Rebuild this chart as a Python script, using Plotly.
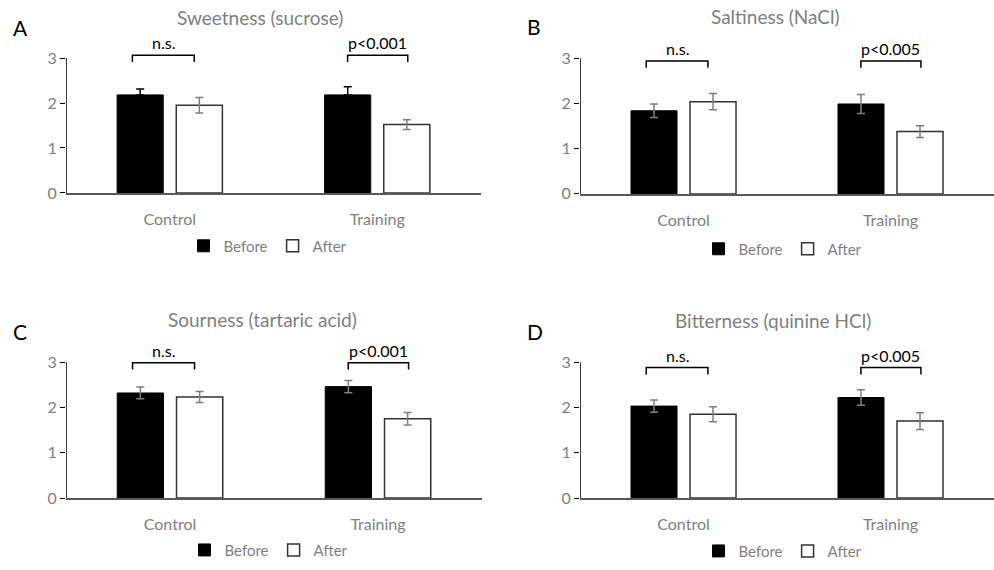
import plotly.graph_objects as go

categories = ["Control", "Training"]
panel_letters = ["A", "B", "C", "D"]
panel_titles = ["Sweetness (sucrose)", "Saltiness (NaCl)",
                "Sourness (tartaric acid)", "Bitterness (quinine HCl)"]
before_vals = [[2.18, 2.18], [1.84, 1.99], [2.32, 2.46], [2.03, 2.22]]
before_err = [[0.13, 0.18], [0.15, 0.21], [0.13, 0.135], [0.135, 0.17]]
after_vals = [[1.95, 1.52], [2.04, 1.38], [2.23, 1.75], [1.85, 1.70]]
after_err = [[0.17, 0.11], [0.18, 0.13], [0.12, 0.14], [0.165, 0.185]]
sig_labels = [["n.s.", "p<0.001"], ["n.s.", "p<0.005"],
              ["n.s.", "p<0.001"], ["n.s.", "p<0.005"]]
bracket_tops = [3.06, 2.94, 2.99, 2.88]
y_ticks = [0, 1, 2, 3]

W, H = 994, 570
FONT = "Lato, 'Open Sans', sans-serif"
GRAY_TXT = "#7f7f7f"

# pixel layout per panel: (x_left, x_right, y_zero, px_per_unit)
panels_px = [(66, 481, 196, 45.67), (580, 994, 197, 45.9),
             (66, 482, 506, 46.0), (580, 994, 506, 46.0)]
YMAX = 3.5
legend_pos = [(268, 250), (783, 253), (269, 559), (783, 560)]
title_pos = [(260, 18), (775, 17), (262, 325), (773, 326)]
letter_pos = [(20, 28), (534, 27), (20, 337), (535, 337)]

fig = go.Figure()
layout = dict(
    width=W, height=H, margin=dict(l=0, r=0, t=0, b=0),
    paper_bgcolor="white", plot_bgcolor="white",
    barmode="group", bargap=0.43, bargroupgap=0.22,
    font=dict(family=FONT, color=GRAY_TXT),
    showlegend=True,
)
annotations = []
shapes = []

for i in range(4):
    xl, xr, yz, ppu = panels_px[i]
    sfx = "" if i == 0 else str(i + 1)
    xa, ya = "x" + sfx, "y" + sfx
    leg = "legend" if i == 0 else "legend" + str(i + 1)

    if i == 0:
        berr = dict(type="data", array=before_err[i], arrayminus=[0, 0],
                    symmetric=False, color="black", thickness=1.5, width=4)
    else:
        berr = dict(type="data", array=before_err[i], symmetric=True,
                    color="#7f7f7f", thickness=1.5, width=4)
    fig.add_trace(go.Bar(
        x=categories, y=before_vals[i], name="Before",
        marker=dict(color="black", line=dict(color="black", width=1)),
        error_y=berr, xaxis=xa, yaxis=ya, legend=leg,
    ))
    fig.add_trace(go.Bar(
        x=categories, y=after_vals[i], name="After",
        marker=dict(color="white", line=dict(color="#333333", width=1.5)),
        error_y=dict(type="data", array=after_err[i], symmetric=True,
                     color="#7f7f7f", thickness=1.5, width=4),
        xaxis=xa, yaxis=ya, legend=leg,
    ))

    y_bot = 1 - yz / H
    y_top = 1 - (yz - YMAX * ppu) / H
    xkey = "xaxis" + sfx
    ykey = "yaxis" + sfx
    layout[xkey] = dict(
        domain=[xl / W, xr / W], anchor=ya, type="category",
        range=[-0.5, 1.5], showline=True, linecolor="#595959", linewidth=1.5,
        ticks="outside", ticklen=11, tickcolor="rgba(0,0,0,0)",
        showgrid=False, zeroline=False,
        tickfont=dict(size=16, color=GRAY_TXT, family=FONT),
        fixedrange=True,
    )
    layout[ykey] = dict(
        domain=[y_bot, y_top], anchor=xa, range=[0, YMAX],
        tickvals=y_ticks, ticks="outside", ticklen=5, tickcolor="black",
        tickwidth=1, showline=False, showgrid=False, zeroline=False,
        tickfont=dict(size=16, color=GRAY_TXT, family=FONT),
        fixedrange=True,
    )
    # y axis line only up to 3
    shapes.append(dict(type="line", xref=xa, yref=ya, x0=-0.5, x1=-0.5,
                       y0=0, y1=max(y_ticks), line=dict(color="black", width=1.5)))

    # significance brackets
    top = bracket_tops[i]
    for j, (bx0, bx1) in enumerate([(-0.18, 0.118), (0.857, 1.147)]):
        shapes.append(dict(type="path", xref=xa, yref=ya,
                           path=f"M {bx0},{top - 0.15} L {bx0},{top} L {bx1},{top} L {bx1},{top - 0.15}",
                           line=dict(color="black", width=1.5)))
        annotations.append(dict(x=(bx0 + bx1) / 2, y=top, xref=xa, yref=ya,
                                text=sig_labels[i][j], showarrow=False,
                                yanchor="bottom", yshift=1,
                                font=dict(size=16, color="black", family=FONT)))

    tx, ty = title_pos[i]
    annotations.append(dict(x=tx / W, y=1 - ty / H, xref="paper", yref="paper",
                            text=panel_titles[i], showarrow=False,
                            xanchor="center", yanchor="middle",
                            font=dict(size=19, color=GRAY_TXT, family=FONT)))
    lx, ly = letter_pos[i]
    annotations.append(dict(x=lx / W, y=1 - ly / H, xref="paper", yref="paper",
                            text=panel_letters[i], showarrow=False,
                            xanchor="center", yanchor="middle",
                            font=dict(size=21, color="black", family=FONT)))

    gx, gy = legend_pos[i]
    layout[leg] = dict(x=gx / W, y=1 - gy / H, xanchor="center", yanchor="middle",
                       orientation="h", traceorder="normal",
                       font=dict(size=15, color=GRAY_TXT, family=FONT),
                       itemwidth=30, bgcolor="rgba(0,0,0,0)")

layout["annotations"] = annotations
layout["shapes"] = shapes
fig.update_layout(**layout)
fig.write_html("out.html", config={"displayModeBar": False},
               post_script="document.body.style.margin='0';document.body.style.padding='0';")
